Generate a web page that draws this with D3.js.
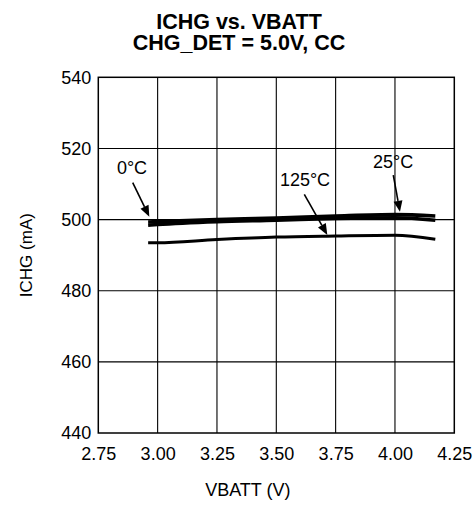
<!DOCTYPE html>
<html>
<head>
<meta charset="utf-8">
<script src="https://cdn.jsdelivr.net/npm/d3@7"></script>
<style>
  html, body { margin: 0; padding: 0; background: #fff; }
  svg { display: block; font-family: "Liberation Sans", Arial, Helvetica, sans-serif; }
</style>
</head>
<body>
<svg id="chart" width="475" height="505"></svg>
<script>
// ---- data ----
const titleLines = ["ICHG vs. VBATT", "CHG_DET = 5.0V, CC"];
const xLabel = "VBATT (V)";
const yLabel = "ICHG (mA)";
const xTicks = [2.75, 3.00, 3.25, 3.50, 3.75, 4.00, 4.25];
const yTicks = [440, 460, 480, 500, 520, 540];

const vbatt = [2.96, 3.00, 3.25, 3.50, 3.75, 4.00, 4.17];
const ichg25C  = [499.3, 499.4, 500.0, 500.4, 501.0, 501.4, 501.0];
const ichg0C   = [498.4, 498.6, 499.4, 499.8, 500.3, 500.5, 499.8];
const ichg125C = [493.5, 493.5, 494.4, 495.1, 495.4, 495.6, 494.5];

const series = [
  { name: "25°C",  values: ichg25C,  width: 3.6 },
  { name: "0°C",   values: ichg0C,   width: 3.6 },
  { name: "125°C", values: ichg125C, width: 3 }
];

// annotations in data units: label position and arrow from -> to
const annotations = [
  { text: "0°C",   tx: 2.892, ty: 512.8, x1: 2.895, y1: 510.4, x2: 2.965, y2: 500.8 },
  { text: "125°C", tx: 3.621, ty: 509.5, x1: 3.618, y1: 507.1, x2: 3.715, y2: 495.7 },
  { text: "25°C",  tx: 3.992, ty: 514.5, x1: 3.993, y1: 512.5, x2: 4.021, y2: 502.2 }
];

// ---- layout ----
const svg = d3.select("#chart");
const mLeft = 98.3, mRight = 454.3, mTop = 77.3, mBottom = 433;

const x = d3.scaleLinear().domain([2.75, 4.25]).range([mLeft, mRight]);
const y = d3.scaleLinear().domain([440, 540]).range([mBottom, mTop]);

// title (one text element, two lines)
const title = svg.append("text")
  .attr("x", 239).attr("y", 28.5)
  .attr("text-anchor", "middle")
  .attr("font-weight", "bold")
  .attr("font-size", 21.5);
title.selectAll("tspan").data(titleLines).join("tspan")
  .attr("x", 239)
  .attr("dy", (d, i) => i === 0 ? 0 : 21.7)
  .text(d => d);

// grid
const grid = svg.append("g").attr("stroke", "#000").attr("stroke-width", 1.1);
grid.selectAll("line.v").data(xTicks.slice(1, -1)).join("line")
  .attr("class", "v")
  .attr("x1", d => x(d)).attr("x2", d => x(d))
  .attr("y1", mTop).attr("y2", mBottom);
grid.selectAll("line.h").data(yTicks.slice(1, -1)).join("line")
  .attr("class", "h")
  .attr("x1", mLeft).attr("x2", mRight)
  .attr("y1", d => y(d)).attr("y2", d => y(d));

// frame
svg.append("rect")
  .attr("x", mLeft).attr("y", mTop)
  .attr("width", mRight - mLeft).attr("height", mBottom - mTop)
  .attr("fill", "none").attr("stroke", "#000").attr("stroke-width", 1.5);

// axes (labels only)
const xAxis = svg.append("g").attr("transform", `translate(0,${mBottom})`)
  .call(d3.axisBottom(x).tickValues(xTicks).tickFormat(d3.format(".2f")).tickSize(0).tickPadding(14));
xAxis.select(".domain").remove();
xAxis.selectAll("text").attr("font-size", 18).attr("fill", "#000");
xAxis.attr("font-family", null).attr("font-size", null);

const yAxis = svg.append("g").attr("transform", `translate(${mLeft},0)`)
  .call(d3.axisLeft(y).tickValues(yTicks).tickFormat(d3.format("d")).tickSize(0).tickPadding(7));
yAxis.select(".domain").remove();
yAxis.selectAll("text").attr("font-size", 18).attr("fill", "#000");
yAxis.attr("font-family", null).attr("font-size", null);

// axis titles
svg.append("text")
  .attr("x", (mLeft + mRight) / 2 - 28.5).attr("y", 496)
  .attr("text-anchor", "middle").attr("font-size", 18)
  .text(xLabel);
svg.append("text")
  .attr("transform", `translate(32,${(mTop + mBottom) / 2}) rotate(-90)`)
  .attr("text-anchor", "middle").attr("font-size", 17)
  .text(yLabel);

// curves
const line = d3.line()
  .x((d, i) => x(vbatt[i]))
  .y(d => y(d))
  .curve(d3.curveMonotoneX);

svg.append("g").selectAll("path").data(series).join("path")
  .attr("d", d => line(d.values))
  .attr("fill", "none")
  .attr("stroke", "#000")
  .attr("stroke-width", d => d.width)
  .attr("stroke-linecap", "butt");

// annotations
const ann = svg.append("g");
annotations.forEach(a => {
  ann.append("text")
    .attr("x", x(a.tx)).attr("y", y(a.ty))
    .attr("text-anchor", "middle").attr("font-size", 18)
    .text(a.text);
  const px1 = x(a.x1), py1 = y(a.y1), px2 = x(a.x2), py2 = y(a.y2);
  const dx = px2 - px1, dy = py2 - py1, len = Math.hypot(dx, dy);
  const ux = dx / len, uy = dy / len;
  const headLen = 11, headW = 4.5;
  const bx = px2 - ux * headLen, by = py2 - uy * headLen;
  ann.append("line")
    .attr("x1", px1).attr("y1", py1).attr("x2", bx).attr("y2", by)
    .attr("stroke", "#000").attr("stroke-width", 1.6);
  ann.append("path")
    .attr("d", `M${px2},${py2}L${bx - uy * headW},${by + ux * headW}L${bx + uy * headW},${by - ux * headW}Z`)
    .attr("fill", "#000");
});
</script>
</body>
</html>
